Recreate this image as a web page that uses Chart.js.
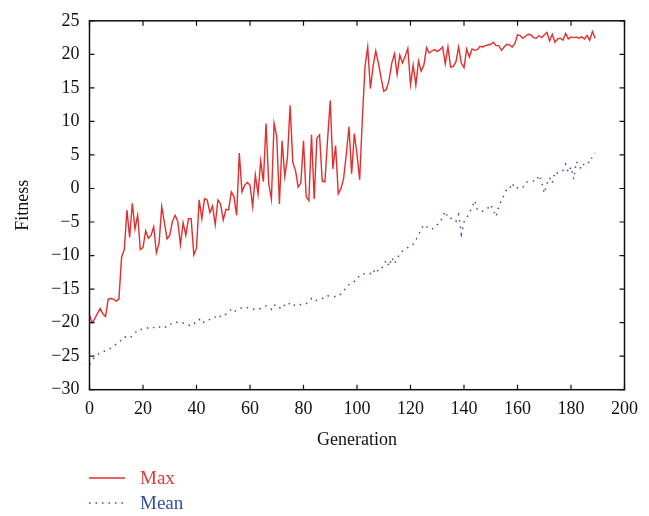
<!DOCTYPE html>
<html>
<head>
<meta charset="utf-8">
<script src="https://cdn.jsdelivr.net/npm/chart.js@4.4.1/dist/chart.umd.min.js"></script>
<style>
  html, body { margin: 0; padding: 0; background: #fff; }
  #wrap { position: relative; width: 649px; height: 516px; }
  .leg { position: absolute; left: 0; font-family: "Liberation Serif", "DejaVu Serif", serif; font-size: 19px; }
  .leg .txt { position: absolute; left: 140px; top: -11px; white-space: nowrap; }
  .leg canvas { position: absolute; left: 86px; top: -4px; }
</style>
</head>
<body>
<div id="wrap">
  <canvas id="myChart" width="649" height="516"></canvas>
  <div class="leg" style="top:478px"><canvas id="legMax" width="44" height="8"></canvas><span class="txt" style="color:#e0383a">Max</span></div>
  <div class="leg" style="top:503px"><canvas id="legMean" width="44" height="8"></canvas><span class="txt" style="color:#2f4ea3">Mean</span></div>
</div>
<script>
// Max fitness per generation (0..189)
const maxValues = [
  -18.9, -20.0, -19.4, -18.6, -17.9, -18.7, -19.1, -16.5, -16.4, -16.5,
  -16.8, -16.5, -10.2, -9.1, -3.2, -7.3, -2.2, -6.0, -4.0, -9.1,
  -8.8, -6.3, -7.4, -7.0, -5.7, -9.6, -8.2, -2.7, -5.1, -7.5,
  -7.0, -4.9, -4.0, -4.9, -8.4, -5.1, -7.0, -4.5, -4.5, -9.9,
  -8.9, -1.7, -4.5, -1.5, -1.7, -3.6, -2.6, -5.4, -1.7, -2.3,
  -4.7, -3.1, -3.2, -0.5, -1.2, -4.0, 5.3, -0.5, 0.5, 0.9,
  0.5, -2.7, 2.0, -0.8, 4.1, 1.0, 9.7, 0.7, -1.6, 9.7,
  7.7, -2.3, 7.1, 1.8, 4.6, 12.4, 3.9, 2.7, 0.2, 0.8,
  7.1, -1.2, -1.8, 8.0, -1.6, 7.5, 8.0, 1.1, 1.0, 7.3,
  13.1, 2.9, 6.4, -0.8, 0.0, 1.5, 5.1, 9.2, 2.2, 8.2,
  5.1, 1.3, 10.4, 18.2, 21.1, 14.9, 18.2, 20.5, 18.7, 16.5,
  14.5, 14.8, 16.2, 18.7, 20.1, 17.0, 19.9, 18.7, 19.7, 20.9,
  15.5, 18.4, 15.4, 19.0, 17.5, 18.4, 21.0, 20.2, 20.5, 20.7,
  20.4, 20.7, 21.1, 18.6, 21.1, 18.1, 18.2, 18.9, 21.1, 18.7,
  18.0, 20.8, 19.6, 20.8, 20.6, 20.7, 21.2, 21.1, 21.3, 21.4,
  21.5, 21.8, 21.3, 21.3, 20.6, 21.1, 21.5, 21.4, 21.1, 21.6,
  22.9, 22.8, 22.4, 22.7, 23.0, 22.9, 22.5, 22.4, 22.8, 22.5,
  22.9, 23.3, 22.0, 23.0, 21.8, 22.3, 22.4, 22.1, 23.1, 22.3,
  22.6, 22.5, 22.6, 22.4, 22.6, 22.3, 22.8, 22.1, 23.4, 22.4
];

// Mean fitness, read at these generations
const meanGens = [
  0, 2, 4, 6, 8, 10, 12, 13, 15, 17, 18, 21, 23, 25, 27, 29, 31, 34, 36, 38,
  41, 42, 44, 46, 48, 49, 50, 53, 54, 56, 58, 60, 62, 64, 66, 68, 69, 71, 72, 74,
  75, 77, 79, 81, 83, 84, 86, 88, 89, 91, 93, 95, 96, 98, 100, 101, 103, 105, 106, 107,
  108, 109, 110, 111, 112, 113, 114, 115, 116, 118, 119, 121, 122, 123, 124, 125, 126, 128, 130, 131,
  132, 133, 134, 136, 137, 138, 139, 140, 141, 142, 143, 144, 145, 147, 149, 150, 152, 153, 154, 155,
  156, 157, 158, 159, 160, 162, 163, 165, 167, 168, 169, 170, 171, 172, 173, 174, 175, 177, 178, 179,
  180, 181, 182, 183, 184, 185, 186, 187, 188, 189
];
const meanValues = [
  -26.2, -25.1, -24.5, -24.2, -23.8, -23.2, -22.6, -22.1, -22.3, -21.6, -21.1, -20.9, -20.6, -20.9, -20.5, -20.7, -20.0, -19.9, -20.2, -20.5,
  -19.5, -20.1, -19.6, -19.5, -18.8, -19.1, -19.1, -18.0, -18.4, -17.9, -17.7, -17.8, -18.1, -17.9, -17.5, -18.0, -17.3, -17.9, -17.3, -17.6,
  -17.0, -17.5, -17.3, -17.2, -16.4, -16.8, -16.5, -16.3, -16.0, -16.1, -16.1, -15.3, -14.6, -14.1, -13.6, -12.9, -12.7, -12.7, -12.1, -12.7,
  -12.1, -12.1, -11.3, -10.7, -11.6, -10.3, -11.2, -10.5, -9.7, -9.0, -8.8, -8.3, -7.7, -6.9, -6.1, -5.4, -5.7, -6.1, -5.4, -5.1,
  -4.2, -3.4, -4.4, -4.5, -4.9, -3.9, -6.8, -5.0, -4.4, -3.6, -2.8, -1.8, -3.2, -3.4, -2.9, -2.4, -4.2, -2.7, -1.7, -1.0,
  -0.1, -0.1, 0.8, 0.0, 0.1, 0.1, 0.9, 1.1, 1.1, 2.0, 1.1, -0.7, 0.7, 1.6, 0.8, 2.5, 2.3, 2.7, 3.6, 2.4,
  3.2, 1.4, 4.0, 3.3, 2.9, 3.8, 4.0, 3.8, 4.8, 5.3
];

const xTicks = [0, 20, 40, 60, 80, 100, 120, 140, 160, 180, 200];
const yTicks = [-30, -25, -20, -15, -10, -5, 0, 5, 10, 15, 20, 25];

const redColor = 'rgb(228, 45, 45)';
const blueColor = 'rgb(50, 80, 170)';
const dotDash = [1.5, 5];
const fontFamily = '"Liberation Serif", "DejaVu Serif", serif';

// frame and inward tick marks on all four sides
const frameTicks = {
  id: 'frameTicks',
  afterDraw(chart) {
    const { ctx, chartArea: a, scales } = chart;
    ctx.save();
    ctx.strokeStyle = '#111';
    ctx.lineWidth = 1.5;
    ctx.strokeRect(a.left, a.top, a.right - a.left, a.bottom - a.top);
    ctx.lineWidth = 1.2;
    ctx.beginPath();
    xTicks.forEach(v => {
      const px = scales.x.getPixelForValue(v);
      ctx.moveTo(px, a.bottom); ctx.lineTo(px, a.bottom - 5);
      ctx.moveTo(px, a.top); ctx.lineTo(px, a.top + 5);
    });
    yTicks.forEach(v => {
      const py = scales.y.getPixelForValue(v);
      ctx.moveTo(a.left, py); ctx.lineTo(a.left + 5, py);
      ctx.moveTo(a.right, py); ctx.lineTo(a.right - 5, py);
    });
    ctx.stroke();
    ctx.restore();
  }
};

const ctx = document.getElementById('myChart').getContext('2d');
const myChart = new Chart(ctx, {
  type: 'line',
  data: {
    datasets: [{
      label: 'Max',
      data: maxValues.map((v, i) => ({ x: i, y: v })),
      borderColor: redColor,
      borderWidth: 1.4,
      pointRadius: 0,
      tension: 0
    }, {
      label: 'Mean',
      data: meanGens.map((g, i) => ({ x: g, y: meanValues[i] })),
      borderColor: blueColor,
      borderWidth: 1.5,
      borderDash: dotDash,
      pointRadius: 0,
      tension: 0
    }]
  },
  options: {
    responsive: false,
    animation: false,
    layout: { padding: { left: 0, right: 24.5, top: 11.7, bottom: 56.3 } },
    plugins: { legend: { display: false }, tooltip: { enabled: false } },
    scales: {
      x: {
        type: 'linear',
        min: 0,
        max: 200,
        afterBuildTicks: scale => { scale.ticks = xTicks.map(v => ({ value: v })); },
        afterFit: scale => { scale.height = 70; },
        grid: { display: false, drawTicks: false },
        border: { display: false },
        ticks: { padding: 9, color: '#111', font: { family: fontFamily, size: 18 } },
        title: {
          display: true,
          text: 'Generation',
          color: '#111',
          padding: { top: 0, bottom: 9 },
          font: { family: fontFamily, size: 18 }
        }
      },
      y: {
        min: -30,
        max: 25,
        afterBuildTicks: scale => { scale.ticks = yTicks.map(v => ({ value: v })); },
        afterFit: scale => { scale.width = 89.5; },
        grid: { display: false, drawTicks: false },
        border: { display: false },
        ticks: {
          padding: 10,
          color: '#111',
          font: { family: fontFamily, size: 18 },
          callback: value => String(value).replace('-', '\u2212')
        },
        title: {
          display: true,
          text: 'Fitness',
          color: '#111',
          padding: { top: 12, bottom: 0 },
          font: { family: fontFamily, size: 18 }
        }
      }
    }
  },
  plugins: [frameTicks]
});

// small legend line samples
function legendSample(id, color, dash) {
  const c = document.getElementById(id).getContext('2d');
  c.strokeStyle = color;
  c.lineWidth = 1.5;
  c.setLineDash(dash);
  c.beginPath();
  c.moveTo(3, 4);
  c.lineTo(39, 4);
  c.stroke();
}
legendSample('legMax', redColor, []);
legendSample('legMean', blueColor, dotDash);
</script>
</body>
</html>
